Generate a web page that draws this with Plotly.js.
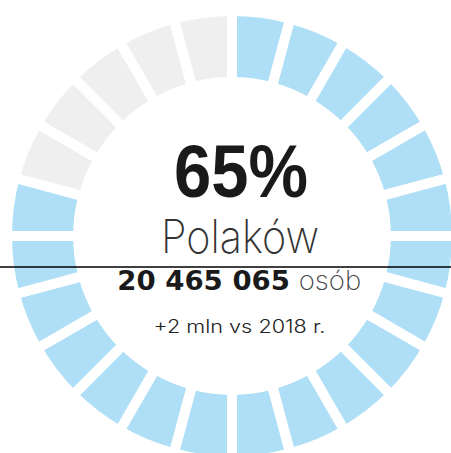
<!DOCTYPE html>
<html>
<head>
<meta charset="utf-8">
<script src="https://cdn.plot.ly/plotly-3.0.1.min.js"></script>
<style>
  html, body { margin: 0; padding: 0; background: #ffffff; overflow: hidden; width: 451px; height: 453px; }
  #chart { position: absolute; left: 0; top: 0; width: 480px; height: 480px; }
</style>
</head>
<body>
<div id="chart"></div>
<script>
// ---- data ----
const segmentLabels = ['s1','s2','s3','s4','s5','s6','s7','s8','s9','s10','s11','s12',
                       's13','s14','s15','s16','s17','s18','s19','s20','s21','s22','s23','s24'];
const segmentValues = [1,1,1,1,1,1,1,1,1,1,1,1,1,1,1,1,1,1,1,1,1,1,1,1];
const segmentFilled = [1,1,1,1,1,1,1,1,1,1,1,1,1,1,1,1,1,1,1,0,0,0,0,0];
const headline = '65%';
const subject = 'Polaków';
const countText = '20 465 065';
const unitText = 'osób';
const changeText = '+2 mln vs 2018 r.';

// ---- styles ----
const BLUE = '#aedff7';
const GREY = '#efefef';
const W = 480, H = 480;
const cx = 232, cy = 236, R = 225;
const px = x => x / W;
const py = y => (H - y) / H;
const THIN = 'Inter, "Liberation Sans", Arial, sans-serif';

const trace = {
  type: 'pie',
  labels: segmentLabels,
  values: segmentValues,
  sort: false,
  direction: 'clockwise',
  rotation: 0,
  hole: 0.684,
  textinfo: 'none',
  hoverinfo: 'none',
  showlegend: false,
  marker: {
    colors: segmentFilled.map(f => f ? BLUE : GREY),
    line: { color: '#ffffff', width: 10 }
  },
  domain: { x: [px(cx - R), px(cx + R)], y: [py(cy + R), py(cy - R)] }
};

const layout = {
  width: W, height: H,
  margin: { l: 0, r: 0, t: 0, b: 0 },
  paper_bgcolor: '#ffffff',
  plot_bgcolor: '#ffffff',
  showlegend: false,
  annotations: [
    { text: '<b>' + headline + '</b>', x: px(241), y: py(171.5), xref: 'paper', yref: 'paper',
      xanchor: 'center', yanchor: 'middle', showarrow: false,
      font: { family: '"Liberation Sans", Arial, sans-serif', size: 74, color: '#1a1a1a' } },
    { text: subject, x: px(240), y: py(236), xref: 'paper', yref: 'paper',
      xanchor: 'center', yanchor: 'middle', showarrow: false,
      font: { family: THIN, size: 46, color: '#333333', weight: 200 } },
    { text: '<b>' + countText + '</b> <span style="font-family:Inter;font-weight:200;color:#444444">' + unitText + '</span>',
      x: px(239), y: py(279.5), xref: 'paper', yref: 'paper',
      xanchor: 'center', yanchor: 'middle', showarrow: false,
      font: { family: '"DejaVu Sans", sans-serif', size: 26.5, color: '#1a1a1a' } },
    { text: changeText, x: px(239), y: py(326), xref: 'paper', yref: 'paper',
      xanchor: 'center', yanchor: 'middle', showarrow: false,
      font: { family: THIN, size: 18, color: '#222222', weight: 300 } }
  ],
  shapes: [
    { type: 'line', xref: 'paper', yref: 'paper', x0: 0, x1: 1, y0: py(267), y1: py(267),
      line: { color: '#000000', width: 1.6 }, layer: 'above' }
  ]
};

// target ink widths (px)
const fitWidths = {};
fitWidths[headline] = 134;
fitWidths[subject] = 158;
fitWidths[countText + ' ' + unitText] = 244;
fitWidths[changeText] = 172;

Plotly.newPlot('chart', [trace], layout, { displayModeBar: false, staticPlot: true }).then(() => {
  document.querySelectorAll('#chart .annotation-text').forEach(t => {
    const w = fitWidths[t.textContent];
    if (w) {
      t.setAttribute('textLength', w);
      t.setAttribute('lengthAdjust', 'spacingAndGlyphs');
    }
  });
});
</script>
</body>
</html>
